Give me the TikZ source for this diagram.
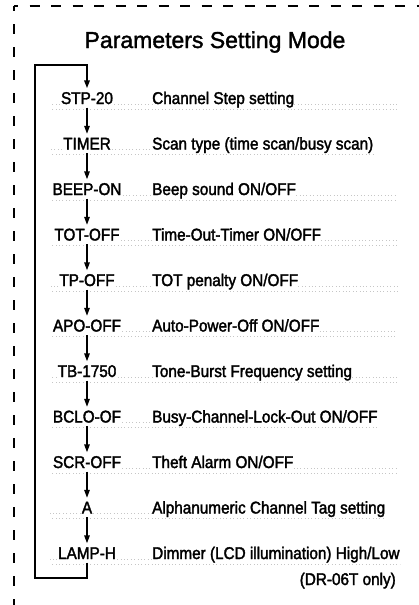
\documentclass[tikz,border=0pt]{standalone}
\usepackage{fontspec}
\setmainfont{Liberation Sans}
\newfontfamily\bodyfont[FakeStretch=0.9, FakeBold=2]{Liberation Sans}
\newfontfamily\titlefont[FakeBold=1.5]{Liberation Sans}
\usetikzlibrary{arrows.meta}
\begin{document}
\begin{tikzpicture}[x=1pt,y=-1pt,
  code/.style={font=\bodyfont\fontsize{17}{19}\selectfont, text height=12pt, text depth=0pt, inner xsep=1pt, inner ysep=3.5pt},
  desc/.style={code, anchor=west, inner xsep=0pt},
  flow/.style={line width=1.4pt, -{Triangle[length=8pt,width=5.5pt]}},
  loopline/.style={line width=1.9pt, -{Triangle[length=8pt,width=5.5pt]}},
  border/.style={line width=1.3pt},
  leader/.style={gray!45, line width=0.6pt, dash pattern=on 0.8pt off 2.6pt}]
\useasboundingbox (0,0) rectangle (419,605);

% dashed border (top and left)
\draw[border, dash pattern=on 10pt off 11.5pt, dash phase=6pt] (14,6) -- (419,6);
\draw[border, dash pattern=on 10pt off 13pt, dash phase=5pt] (14,6) -- (14,605);

% title
\node[font=\titlefont\fontsize{23}{26}\selectfont, anchor=base, inner sep=0pt] (title) at (215,48) {Parameters Setting Mode};

% codes
\node[code] (c1)  at (87,98)    {STP-20};
\node[code] (c2)  at (87,143.5) {TIMER};
\node[code] (c3)  at (87,189)   {BEEP-ON};
\node[code] (c4)  at (87,234.5) {TOT-OFF};
\node[code] (c5)  at (87,280)   {TP-OFF};
\node[code] (c6)  at (87,325.5) {APO-OFF};
\node[code] (c7)  at (87,371)   {TB-1750};
\node[code] (c8)  at (87,416.5) {BCLO-OF};
\node[code] (c9)  at (87,462)   {SCR-OFF};
\node[code] (c10) at (87,507.5) {A};
\node[code] (c11) at (87,553)   {LAMP-H};

% descriptions
\node[desc] (d1)  at (152,98)    {Channel Step setting};
\node[desc] (d2)  at (152,143.5) {Scan type (time scan/busy scan)};
\node[desc] (d3)  at (152,189)   {Beep sound ON/OFF};
\node[desc] (d4)  at (152,234.5) {Time-Out-Timer ON/OFF};
\node[desc] (d5)  at (152,280)   {TOT penalty ON/OFF};
\node[desc] (d6)  at (152,325.5) {Auto-Power-Off ON/OFF};
\node[desc] (d7)  at (152,371)   {Tone-Burst Frequency setting};
\node[desc] (d8)  at (152,416.5) {Busy-Channel-Lock-Out ON/OFF};
\node[desc] (d9)  at (152,462)   {Theft Alarm ON/OFF};
\node[desc] (d10) at (152,507.5) {Alphanumeric Channel Tag setting};
\node[desc] (d11) at (152,553)   {Dimmer (LCD illumination) High/Low};
\node[code, anchor=east, inner xsep=0pt] (d12) at (396,579) {(DR-06T only)};

% faint dotted leaders
\coordinate (rx) at (397,0);
\coordinate (lx) at (50,0);
\foreach \i in {1,...,11} {
  \draw[leader] (c\i.base east) -- (d\i.base west);
  \draw[leader] ([yshift=-5pt]c\i.base) -- ([yshift=-5pt]d\i.base east);
  \draw[leader] ([yshift=-5pt]c\i.base) -- ([yshift=-5pt]c\i.base -| lx);
}
\foreach \i in {1,3,4,5,6,7,9} {
  \draw[leader] (d\i.base east) -- (d\i.base east -| rx);
  \draw[leader] ([yshift=-5pt]d\i.base east) -- ([yshift=-5pt]d\i.base east -| rx);
}
\foreach \i in {1,2,5,7,10,11} {
  \draw[leader] (c\i.base west) -- (c\i.base west -| lx);
}

% flow arrows
\foreach \i [evaluate=\i as \j using int(\i+1)] in {1,...,10} {
  \draw[flow] (c\i.south) -- (c\j.north);
}

% loop back
\coordinate (lb) at (35,578);
\coordinate (lt) at (35,65);
\draw[loopline] (c11.south) |- (lb) -- (lt) -| (c1.north);
\end{tikzpicture}
\end{document}
